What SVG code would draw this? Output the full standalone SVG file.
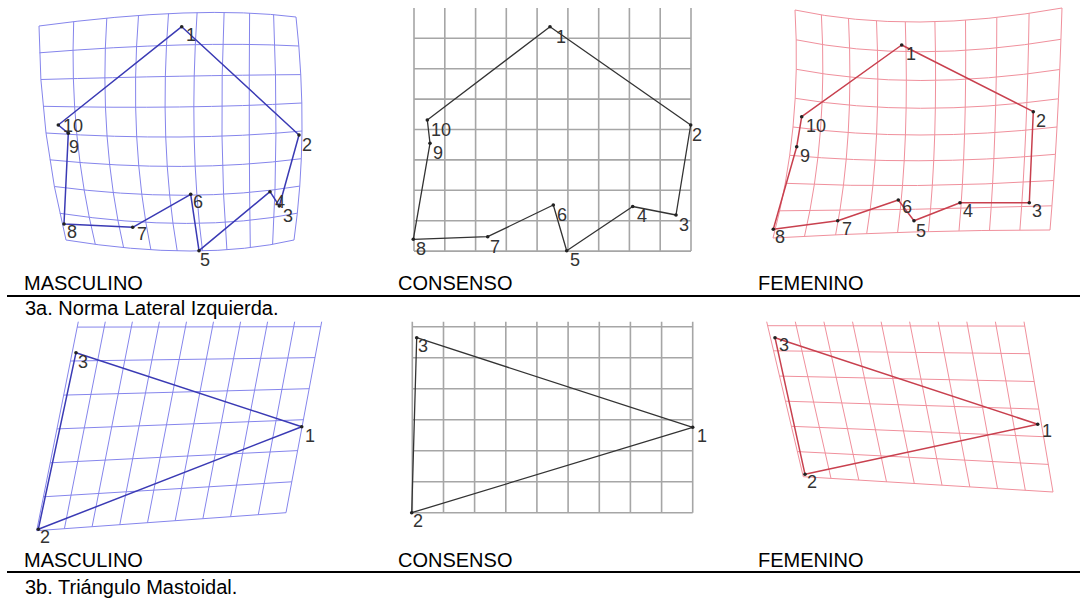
<svg xmlns="http://www.w3.org/2000/svg" width="1087" height="599" viewBox="0 0 1087 599">
<style>
.bg{fill:#fff}
.gm{fill:none;stroke:#8585ec;stroke-width:1}
.gc{fill:none;stroke:#a6a6a6;stroke-width:1.6}
.gf{fill:none;stroke:#f0909c;stroke-width:1}
.pm{fill:none;stroke:#3a3ab4;stroke-width:1.5;stroke-linejoin:round}
.pc{fill:none;stroke:#333;stroke-width:1.3;stroke-linejoin:round}
.pf{fill:none;stroke:#c8404e;stroke-width:1.5;stroke-linejoin:round}
.dot{fill:#222}
.lb{font-family:"Liberation Sans",Arial,sans-serif;font-size:18px;fill:#333}
.cap{font-family:"Liberation Sans",Arial,sans-serif;font-size:20px;fill:#000}
.rule{stroke:#000;stroke-width:2}
</style>
<rect class="bg" x="0" y="0" width="1087" height="599"/>

<!-- Grids -->
<g id="grid-masc-top" class="gm">
<path d="M39,26 Q39.5,133 66,240"/>
<path d="M73.7,21.7 Q69.2,136.5 95.3,244.4"/>
<path d="M106.8,18.1 Q98.9,139.2 123.6,247.6"/>
<path d="M138.5,15.5 Q128.7,140.9 150.9,249.8"/>
<path d="M168.5,13.6 Q158.6,141.9 177.2,250.9"/>
<path d="M197.1,12.6 Q188.5,141.9 202.5,250.9"/>
<path d="M224.1,12.5 Q218.5,141.1 226.9,249.8"/>
<path d="M249.6,13.1 Q248.6,139.4 250.3,247.6"/>
<path d="M273.6,14.6 Q278.8,136.9 272.6,244.4"/>
<path d="M296,17 Q309,133.5 294,240"/>
<path d="M39,26 Q198.5,4.5 296,17"/>
<path d="M39.5,52.8 Q192.9,40.5 298.8,46"/>
<path d="M40.9,79.5 Q188.9,75.4 300.8,74.6"/>
<path d="M43,106.3 Q186.6,109.3 301.8,103"/>
<path d="M46,133 Q186,142 302,131"/>
<path d="M49.8,159.8 Q187,173.6 301.3,158.7"/>
<path d="M54.4,186.5 Q189.7,204.2 299.8,186.1"/>
<path d="M59.8,213.3 Q194,233.6 297.3,213.2"/>
<path d="M66,240 Q200,262 294,240"/>
</g>

<g id="grid-cons-top" class="gc">
<path d="M414,8V251.1M444.8,8V251.1M475.6,8V251.1M506.3,8V251.1M537.1,8V251.1M567.9,8V251.1M598.7,8V251.1M629.4,8V251.1M660.2,8V251.1M691,8V251.1"/>
<path d="M414,38.3H691M414,68.7H691M414,99.1H691M414,129.5H691M414,159.9H691M414,190.3H691M414,220.7H691M414,251.1H691"/>
</g>

<g id="grid-fem-top" class="gf">
<path d="M795,10 Q802,130 773,238"/>
<path d="M821.4,14.9 Q828,134.7 804.5,236.3"/>
<path d="M848.5,18.5 Q854.4,138.4 835.6,234.8"/>
<path d="M876.5,20.9 Q881.6,141 866.7,233.6"/>
<path d="M905.3,22 Q909.4,142.6 897.6,232.5"/>
<path d="M934.9,21.7 Q937.8,143.1 928.4,231.6"/>
<path d="M965.5,20.2 Q966.9,142.7 959,230.9"/>
<path d="M996.8,17.4 Q996.6,141.2 989.5,230.4"/>
<path d="M1029.1,13.4 Q1027.1,138.6 1019.9,230.1"/>
<path d="M1062,8 Q1058,135 1050,230"/>
<path d="M795,10 Q911.5,35 1062,8"/>
<path d="M796.2,39.8 Q912.8,64 1060.9,39.3"/>
<path d="M796.3,69.3 Q913.7,91.6 1059.8,69.5"/>
<path d="M795.2,98.3 Q914.5,118 1058.4,98.8"/>
<path d="M793,127 Q915,143 1057,127"/>
<path d="M789.7,155.3 Q915.3,166.7 1055.4,154.3"/>
<path d="M785.3,183.3 Q915.3,189.1 1053.8,180.5"/>
<path d="M779.7,210.8 Q915,210.2 1051.9,205.8"/>
<path d="M773,238 Q914.5,230 1050,230"/>
</g>

<g id="grid-masc-bottom" class="gm">
<path d="M78.3,321.7L36.7,530.7M105.3,321.7L64.4,528.7M132.4,321.7L92.1,526.7M159.4,321.7L119.8,524.7M186.5,321.7L147.5,522.7M213.5,321.7L175.2,520.7M240.6,321.7L202.9,518.7M267.6,321.7L230.6,516.7M294.7,321.7L258.3,514.7M321.7,321.7L286,512.7"/>
<path d="M77.2,327.1L320.8,326.7M70.5,361L315,357.6M63.7,395.1L309.2,388.7M57,428.9L303.4,419.7M50.2,462.8L297.6,450.6M43.4,496.8L291.8,481.8M36.7,530.7L286,512.7"/>
</g>

<g id="grid-cons-bottom" class="gc">
<path d="M412.3,321.7V512.7M443.5,321.7V512.7M474.6,321.7V512.7M505.8,321.7V512.7M536.9,321.7V512.7M568.1,321.7V512.7M599.3,321.7V512.7M630.4,321.7V512.7M661.6,321.7V512.7M692.7,321.7V512.7"/>
<path d="M412.3,326.7H692.7M412.3,357.7H692.7M412.3,388.7H692.7M412.3,419.7H692.7M412.3,450.7H692.7M412.3,481.7H692.7M412.3,512.7H692.7"/>
</g>

<g id="grid-fem-bottom" class="gf">
<path d="M766.7,321.7L803.3,476.7M795.3,321.7L831,478.4M823.9,321.7L858.8,480.1M852.5,321.7L886.5,481.8M881.1,321.7L914.3,483.5M909.6,321.7L942,485.2M938.2,321.7L969.8,486.9M966.8,321.7L997.5,488.6M995.4,321.7L1025.3,490.3M1024,321.7L1053,492"/>
<path d="M767.7,325.7L1024.8,326.1M773.6,350.8L1029.5,353.7M779.5,376.1L1034.2,381.5M785.5,401.2L1038.9,409.1M791.4,426.3L1043.6,436.7M797.4,451.6L1048.3,464.4M803.3,476.7L1053,492"/>
</g>

<!-- Connectors -->
<g id="connectors">
<polygon class="pm" points="181.7,26.7 299,135 279.3,206 270,191.7 199,250.7 190.7,194.3 132.7,227.3 64,224 68.3,133.3 58.3,125"/>
<polygon class="pc" points="550,26.7 690.7,125 676,215 632.7,206.5 566.7,250.7 553.3,205 487.7,236.7 413.3,239.3 430,143.3 427.3,120"/>
<polygon class="pf" points="901.7,45 1033.3,111.7 1029.3,202.7 960,202.7 914,220.7 898.3,200 837.7,220.7 773.3,229.3 796.7,146.7 801.7,116.7"/>
<polygon class="pm" points="301.7,426.7 38.3,529.3 76,352.7"/>
<polygon class="pc" points="692.7,427.3 411.7,512.7 416.7,337.7"/>
<polygon class="pf" points="1037.7,424.3 805,474.3 775,337.7"/>
</g>

<!-- Landmark nodes: masculino top -->
<g id="m1"><circle class="dot" cx="181.7" cy="26.7" r="1.8"/><text class="lb" x="186" y="41">1</text></g>
<g id="m2"><circle class="dot" cx="299" cy="135" r="1.8"/><text class="lb" x="302" y="151">2</text></g>
<g id="m3"><circle class="dot" cx="279.3" cy="206" r="1.8"/><text class="lb" x="283" y="222">3</text></g>
<g id="m4"><circle class="dot" cx="270" cy="191.7" r="1.8"/><text class="lb" x="275" y="208">4</text></g>
<g id="m5"><circle class="dot" cx="199" cy="250.7" r="1.8"/><text class="lb" x="200" y="266">5</text></g>
<g id="m6"><circle class="dot" cx="190.7" cy="194.3" r="1.8"/><text class="lb" x="193" y="208">6</text></g>
<g id="m7"><circle class="dot" cx="132.7" cy="227.3" r="1.8"/><text class="lb" x="137" y="240">7</text></g>
<g id="m8"><circle class="dot" cx="64" cy="224" r="1.8"/><text class="lb" x="67" y="238">8</text></g>
<g id="m9"><circle class="dot" cx="68.3" cy="133.3" r="1.8"/><text class="lb" x="69" y="153">9</text></g>
<g id="m10"><circle class="dot" cx="58.3" cy="125" r="1.8"/><text class="lb" x="63" y="132">10</text></g>

<!-- consenso top -->
<g id="c1"><circle class="dot" cx="550" cy="26.7" r="1.8"/><text class="lb" x="556" y="43">1</text></g>
<g id="c2"><circle class="dot" cx="690.7" cy="125" r="1.8"/><text class="lb" x="692" y="141">2</text></g>
<g id="c3"><circle class="dot" cx="676" cy="215" r="1.8"/><text class="lb" x="679" y="231">3</text></g>
<g id="c4"><circle class="dot" cx="632.7" cy="206.5" r="1.8"/><text class="lb" x="637" y="222">4</text></g>
<g id="c5"><circle class="dot" cx="566.7" cy="250.7" r="1.8"/><text class="lb" x="570" y="266">5</text></g>
<g id="c6"><circle class="dot" cx="553.3" cy="205" r="1.8"/><text class="lb" x="557" y="221">6</text></g>
<g id="c7"><circle class="dot" cx="487.7" cy="236.7" r="1.8"/><text class="lb" x="490" y="253">7</text></g>
<g id="c8"><circle class="dot" cx="413.3" cy="239.3" r="1.8"/><text class="lb" x="416" y="255">8</text></g>
<g id="c9"><circle class="dot" cx="430" cy="143.3" r="1.8"/><text class="lb" x="433" y="159">9</text></g>
<g id="c10"><circle class="dot" cx="427.3" cy="120" r="1.8"/><text class="lb" x="431" y="136">10</text></g>

<!-- femenino top -->
<g id="f1"><circle class="dot" cx="901.7" cy="45" r="1.8"/><text class="lb" x="906" y="60">1</text></g>
<g id="f2"><circle class="dot" cx="1033.3" cy="111.7" r="1.8"/><text class="lb" x="1036" y="127">2</text></g>
<g id="f3"><circle class="dot" cx="1029.3" cy="202.7" r="1.8"/><text class="lb" x="1032" y="217">3</text></g>
<g id="f4"><circle class="dot" cx="960" cy="202.7" r="1.8"/><text class="lb" x="963" y="217">4</text></g>
<g id="f5"><circle class="dot" cx="914" cy="220.7" r="1.8"/><text class="lb" x="916" y="237">5</text></g>
<g id="f6"><circle class="dot" cx="898.3" cy="200" r="1.8"/><text class="lb" x="902" y="213">6</text></g>
<g id="f7"><circle class="dot" cx="837.7" cy="220.7" r="1.8"/><text class="lb" x="842" y="235">7</text></g>
<g id="f8"><circle class="dot" cx="773.3" cy="229.3" r="1.8"/><text class="lb" x="775" y="243">8</text></g>
<g id="f9"><circle class="dot" cx="796.7" cy="146.7" r="1.8"/><text class="lb" x="800" y="162">9</text></g>
<g id="f10"><circle class="dot" cx="801.7" cy="116.7" r="1.8"/><text class="lb" x="806" y="132">10</text></g>

<!-- bottom triangles -->
<g id="mb1"><circle class="dot" cx="301.7" cy="426.7" r="1.8"/><text class="lb" x="305" y="442">1</text></g>
<g id="mb2"><circle class="dot" cx="38.3" cy="529.3" r="1.8"/><text class="lb" x="40" y="543">2</text></g>
<g id="mb3"><circle class="dot" cx="76" cy="352.7" r="1.8"/><text class="lb" x="78" y="368">3</text></g>
<g id="cb1"><circle class="dot" cx="692.7" cy="427.3" r="1.8"/><text class="lb" x="697" y="442">1</text></g>
<g id="cb2"><circle class="dot" cx="411.7" cy="512.7" r="1.8"/><text class="lb" x="413" y="527">2</text></g>
<g id="cb3"><circle class="dot" cx="416.7" cy="337.7" r="1.8"/><text class="lb" x="418" y="352">3</text></g>
<g id="fb1"><circle class="dot" cx="1037.7" cy="424.3" r="1.8"/><text class="lb" x="1042" y="437">1</text></g>
<g id="fb2"><circle class="dot" cx="805" cy="474.3" r="1.8"/><text class="lb" x="807" y="488">2</text></g>
<g id="fb3"><circle class="dot" cx="775" cy="337.7" r="1.8"/><text class="lb" x="779" y="351">3</text></g>

<!-- Captions -->
<g id="captions">
<text class="cap" x="24" y="290">MASCULINO</text>
<text class="cap" x="398" y="290">CONSENSO</text>
<text class="cap" x="758" y="290">FEMENINO</text>
<line class="rule" x1="7" y1="296" x2="1080" y2="296"/>
<text class="cap" x="25" y="315">3a. Norma Lateral Izquierda.</text>
<text class="cap" x="24" y="567">MASCULINO</text>
<text class="cap" x="398" y="567">CONSENSO</text>
<text class="cap" x="758" y="567">FEMENINO</text>
<line class="rule" x1="7" y1="572" x2="1080" y2="572"/>
<text class="cap" x="25" y="594">3b. Triángulo Mastoidal.</text>
</g>
</svg>
